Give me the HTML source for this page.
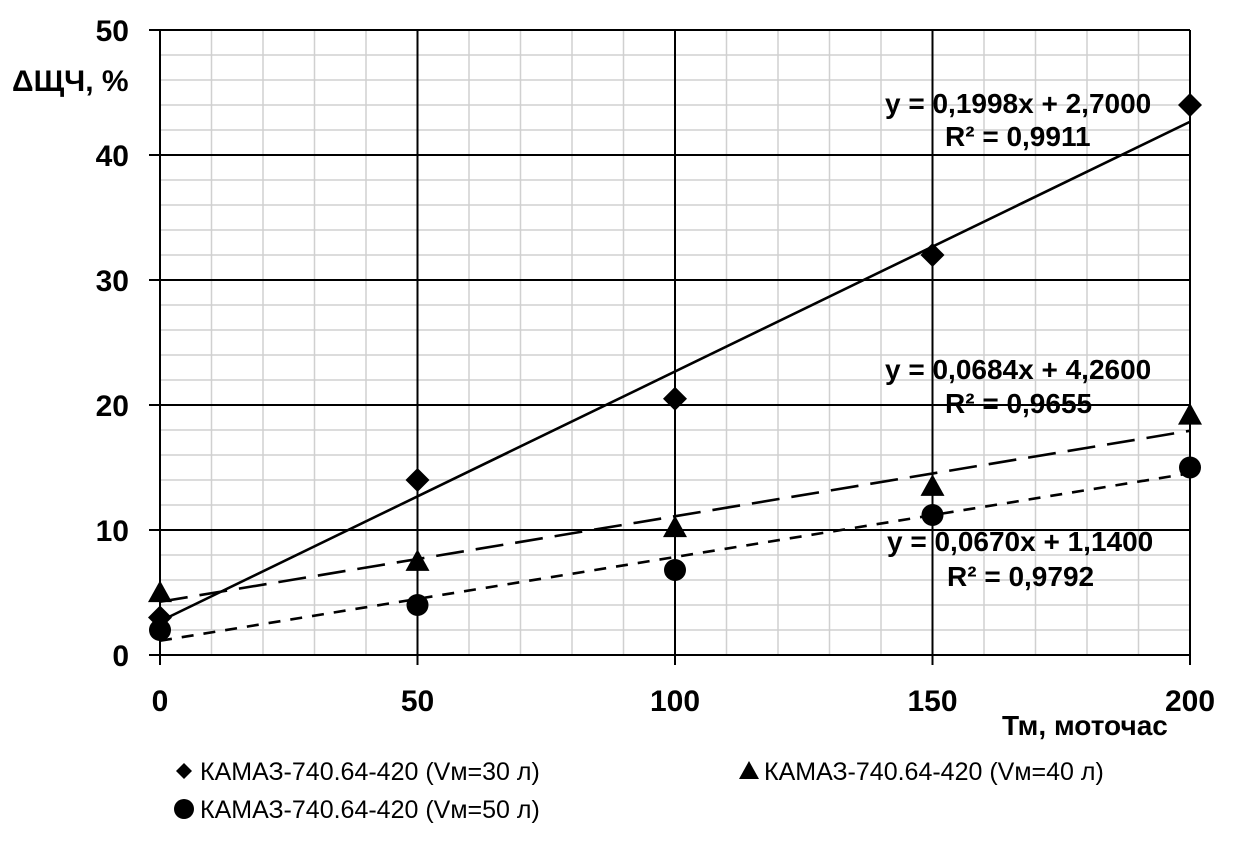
<!DOCTYPE html>
<html><head><meta charset="utf-8"><style>
body{margin:0;background:#fff}
svg{display:block}
text{font-family:"Liberation Sans","DejaVu Sans",sans-serif;fill:#000}
.tk{font-size:30px;font-weight:bold}
.ax{font-size:28px;font-weight:bold}
.eq{font-size:28px;font-weight:bold}
.lg{font-size:25px}
</style></head><body>
<svg id="c" width="1237" height="845">
<g id="grid"></g>
<g id="marks"></g>
<g id="labels"></g>
</svg>
<script>
const xs=[0,50,100,150,200];
const s30=[3,14,20.5,32,44];
const s40=[5,7.5,10.2,13.5,19.2];
const s50=[2,4,6.8,11.2,15];
const fits=[[0.1998,2.7],[0.0684,4.26],[0.067,1.14]];
const xTicks=[0,50,100,150,200];
const yTicks=[0,10,20,30,40,50];
const X=v=>160+v*(1030/200), Y=v=>655-v*12.5;
const NS='http://www.w3.org/2000/svg';
function mk(p,t,a){const e=document.createElementNS(NS,t);for(const k in a)e.setAttribute(k,a[k]);p.appendChild(e);return e;}
const g=document.getElementById('grid'),m=document.getElementById('marks'),l=document.getElementById('labels');
for(let v=0;v<=200;v+=10){if(v%50){const e=mk(g,'line',{x1:X(v),x2:X(v),y1:Y(0),y2:Y(50),stroke:'#d0d0d0','stroke-width':1.5});}}
for(let v=0;v<=50;v+=2){if(v%10){const e=mk(g,'line',{x1:X(0),x2:X(200),y1:Y(v),y2:Y(v),stroke:'#d0d0d0','stroke-width':1.5});}}
xTicks.forEach(v=>{const e=mk(g,'line',{x1:X(v),x2:X(v),y1:Y(50),y2:Y(0)+10,stroke:'#000','stroke-width':2});
const t=mk(l,'text',{x:X(v),y:711,'text-anchor':'middle',class:'tk'});t.textContent=v;});
yTicks.forEach(v=>{const e=mk(g,'line',{x1:X(0)-11,x2:X(200),y1:Y(v),y2:Y(v),stroke:'#000','stroke-width':2});
const t=mk(l,'text',{x:129,y:Y(v)+11,'text-anchor':'end',class:'tk'});t.textContent=v;});
const dashes=['none','28 12','12 10'];
fits.forEach((f,i)=>{const e=mk(m,'line',{x1:X(0),y1:Y(f[1]),x2:X(200),y2:Y(f[0]*200+f[1]),stroke:'#000','stroke-width':2.6,'stroke-dasharray':dashes[i]});});
function diamond(p,x,y,r){return mk(p,'polygon',{points:`${x},${y-r} ${x+r},${y} ${x},${y+r} ${x-r},${y}`});}
function tri(p,x,y,r){return mk(p,'polygon',{points:`${x},${y-r} ${x+r},${y+r*0.8} ${x-r},${y+r*0.8}`});}
xs.forEach((x,i)=>{
const a=diamond(m,X(x),Y(s30[i]),12);
const b=tri(m,X(x),Y(s40[i]),12);
const c=mk(m,'circle',{cx:X(x),cy:Y(s50[i]),r:11});
});
</script>
<script>
const L=document.getElementById('labels');
const items=[
['eq','y = 0,1998x + 2,7000',885,113,'equation-v30'],['eq','R² = 0,9911',945,146,'r2-v30'],
['eq','y = 0,0684x + 4,2600',885,379,'equation-v40'],['eq','R² = 0,9655',945,413,'r2-v40'],
['eq','y = 0,0670x + 1,1400',887,551,'equation-v50'],['eq','R² = 0,9792',947,586,'r2-v50'],
['tk','ΔЩЧ, %',12,91,'y-axis-title'],['ax','Тм, моточас',1002,735,'x-axis-title'],
['lg','КАМАЗ-740.64-420 (Vм=30 л)',200,780,'legend-entry-v30'],
['lg','КАМАЗ-740.64-420 (Vм=40 л)',764,780,'legend-entry-v40'],
['lg','КАМАЗ-740.64-420 (Vм=50 л)',200,818,'legend-entry-v50']];
items.forEach(it=>{const t=document.createElementNS('http://www.w3.org/2000/svg','text');t.setAttribute('x',it[2]);t.setAttribute('y',it[3]);t.setAttribute('class',it[0]);t.textContent=it[1];


L.appendChild(t);});
const d=diamond(L,184,771,8);
const tr=tri(L,749,771,10);
const ci=document.createElementNS('http://www.w3.org/2000/svg','circle');ci.setAttribute('cx',184);ci.setAttribute('cy',809);ci.setAttribute('r',10);L.appendChild(ci);


</script>
</body></html>
